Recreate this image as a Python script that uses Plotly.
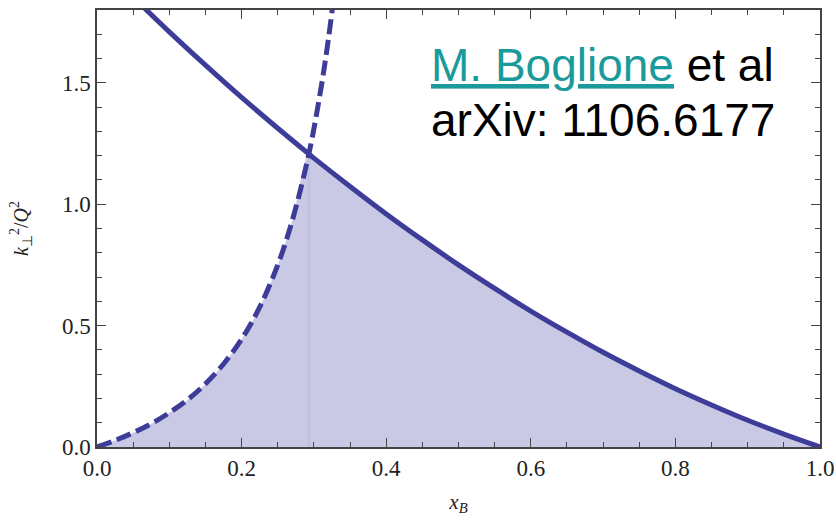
import plotly.graph_objects as go

# Solid upper bound curve
solid_x = [0.05, 0.10, 0.15, 0.20, 0.25, 0.293, 0.30, 0.35, 0.40, 0.45, 0.50,
           0.55, 0.60, 0.65, 0.70, 0.75, 0.80, 0.85, 0.90, 0.95, 1.00]
solid_y = [1.853, 1.710, 1.573, 1.440, 1.313, 1.207, 1.190, 1.073, 0.960, 0.853, 0.750,
           0.653, 0.560, 0.473, 0.390, 0.313, 0.240, 0.173, 0.110, 0.053, 0.000]

# Dashed curve
dash_x = [0.0, 0.025, 0.05, 0.075, 0.10, 0.125, 0.15, 0.175, 0.20, 0.225, 0.25,
          0.27, 0.293, 0.31, 0.32, 0.33]
dash_y = [0.0, 0.027, 0.059, 0.096, 0.141, 0.194, 0.260, 0.342, 0.444, 0.576, 0.750,
          0.932, 1.207, 1.481, 1.679, 1.913]

# intersection point
x_cross = 0.293
y_cross = 1.207

LINE = "#3d3d99"
FILL = "#c9c9e5"

# lower envelope for shaded region
env_x = [x for x in dash_x if x <= x_cross] + [x for x in solid_x if x > x_cross]
env_y = [y for x, y in zip(dash_x, dash_y) if x <= x_cross] + \
        [y for x, y in zip(solid_x, solid_y) if x > x_cross]

fig = go.Figure()
fig.add_trace(go.Scatter(x=env_x, y=env_y, mode="lines", fill="tozeroy",
                         fillcolor=FILL, line=dict(width=0, shape="spline", color=FILL),
                         hoverinfo="skip", showlegend=False))
fig.add_trace(go.Scatter(x=[x_cross, x_cross], y=[0, y_cross], mode="lines",
                         line=dict(width=1, color="#b6b6da"), hoverinfo="skip",
                         showlegend=False))
fig.add_trace(go.Scatter(x=solid_x, y=solid_y, mode="lines",
                         line=dict(width=5, color=LINE, shape="spline"), showlegend=False))
fig.add_trace(go.Scatter(x=dash_x, y=dash_y, mode="lines",
                         line=dict(width=5, color=LINE, shape="spline", dash="15px,6px"),
                         showlegend=False))

tickfont = dict(family="Liberation Serif", size=23, color="#222222")
axis_common = dict(showgrid=False, zeroline=False, showline=True, linecolor="#444444",
                   linewidth=1.5, mirror="ticks", ticks="inside", ticklen=9,
                   tickwidth=1.3, tickcolor="#444444", tickfont=tickfont,
                   tickformat=".1f", automargin=False)

fig.update_xaxes(range=[0, 1], dtick=0.2, tick0=0,
                 minor=dict(dtick=0.05, ticks="inside", ticklen=5, tickcolor="#444444",
                            tickwidth=1.2),
                 title=dict(text="<i>x</i><sub><i>B</i></sub>",
                            font=dict(family="Liberation Serif", size=21, color="#222222"),
                            standoff=14),
                 **axis_common)
fig.update_yaxes(range=[0, 1.8], dtick=0.5, tick0=0,
                 minor=dict(dtick=0.1, ticks="inside", ticklen=5, tickcolor="#444444",
                            tickwidth=1.2),
                 title=dict(text="<i>k</i><sub>⊥</sub><sup>2</sup>/<i>Q</i><sup>2</sup>",
                            font=dict(family="Liberation Serif", size=20, color="#222222"),
                            standoff=28),
                 **axis_common)

# plot area spans page x 97..820, y 10..447
L, T = 97, 10
PW, PH = 723, 437
def px(xp):
    return (xp - L) / PW
def py(yp):
    return (T + PH - yp) / PH

fig.add_annotation(xref="paper", yref="paper", x=px(429), y=py(65),
                   xanchor="left", yanchor="middle", showarrow=False,
                   text='<span style="color:#1a9a9a"><u>M. Boglione</u></span> et al',
                   font=dict(family="Liberation Sans", size=46, color="#000000"))
fig.add_annotation(xref="paper", yref="paper", x=px(429), y=py(120),
                   xanchor="left", yanchor="middle", showarrow=False,
                   text="arXiv: 1106.6177",
                   font=dict(family="Liberation Sans", size=46, color="#000000"))

fig.update_layout(width=836, height=523, margin=dict(l=L, r=836 - L - PW, t=T, b=523 - T - PH),
                  plot_bgcolor="white", paper_bgcolor="white")

fig.write_html("out.html", config={"displayModeBar": False},
               post_script="document.body.style.margin='0';document.body.style.overflow='hidden';")
